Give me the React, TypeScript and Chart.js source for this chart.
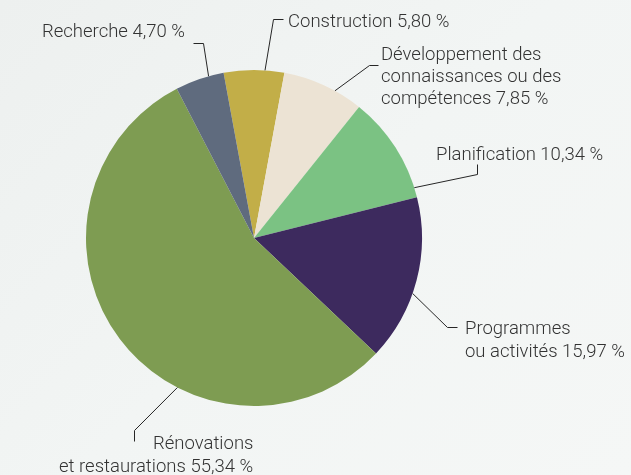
import React, { useEffect, useRef } from "react";
import { Chart, registerables } from "chart.js";

Chart.register(...registerables);

const categories = [
  "Construction",
  "Développement des connaissances ou des compétences",
  "Planification",
  "Programmes ou activités",
  "Rénovations et restaurations",
  "Recherche",
];
const values = [5.8, 7.85, 10.34, 15.97, 55.34, 4.7];
const colors = ["#c2ae48", "#ece3d4", "#7bc283", "#3d2a5e", "#7e9c52", "#5f6b7e"];
const labelLines = [
  ["Construction 5,80 %"],
  ["Développement des", "connaissances ou des", "compétences 7,85 %"],
  ["Planification 10,34 %"],
  ["Programmes", "ou activités 15,97 %"],
  ["Rénovations", "et restaurations 55,34 %"],
  ["Recherche 4,70 %"],
];

// label layout (pixels): text positions, leader-line anchor fraction along arc, elbow path
const labelLayout = [
  { t: 0.68, path: [[273, 19], [283, 19]], text: [[288, 27]] },
  { t: 0.65, path: [[369, 65], [378, 65]], text: [[381, 60], [381, 82], [381, 104]] },
  { t: 0.91, path: [[477, 174], [477, 164]], text: [[436, 160]] },
  { t: 0.58, path: [[447, 327], [457, 327]], text: [[465, 334], [465, 357]] },
  { t: 0.37, path: [[134, 430], [134, 441]], text: [[153, 449], [59, 472]] },
  { t: 0.69, path: [[203, 43], [193, 43]], text: [[42, 37]] },
];

const labelPlugin = {
  id: "leaderLabels",
  afterDatasetsDraw(chart: any) {
    const ctx = chart.ctx;
    const meta = chart.getDatasetMeta(0);
    ctx.save();
    ctx.strokeStyle = "#262626";
    ctx.lineWidth = 1;
    ctx.fillStyle = "#333333";
    ctx.font = "300 18.5px Roboto, 'Noto Sans', sans-serif";
    ctx.textBaseline = "alphabetic";
    ctx.textAlign = "left";
    meta.data.forEach((arc: any, i: number) => {
      const p = arc.getProps(["x", "y", "startAngle", "endAngle", "outerRadius"], true);
      const lay = labelLayout[i];
      const a = p.startAngle + lay.t * (p.endAngle - p.startAngle);
      const ax = p.x + Math.cos(a) * p.outerRadius;
      const ay = p.y + Math.sin(a) * p.outerRadius;
      ctx.beginPath();
      ctx.moveTo(ax, ay);
      lay.path.forEach((pt) => ctx.lineTo(pt[0] + 0.5, pt[1] + 0.5));
      ctx.stroke();
      labelLines[i].forEach((line, j) => {
        const pos = lay.text[j];
        ctx.fillText(line, pos[0], pos[1]);
      });
    });
    ctx.restore();
  },
};

export default function App() {
  const ref = useRef<HTMLCanvasElement>(null);
  useEffect(() => {
    if (!ref.current) return;
    const chart = new Chart(ref.current, {
      type: "pie",
      data: {
        labels: categories,
        datasets: [
          {
            data: values,
            backgroundColor: colors,
            borderWidth: 0,
          },
        ],
      },
      options: {
        responsive: false,
        animation: false,
        rotation: -(values[0] / 100) * 180,
        layout: { padding: { left: 86, right: 209, top: 70, bottom: 69 } },
        plugins: {
          legend: { display: false },
          tooltip: { enabled: false },
        },
      },
      plugins: [labelPlugin],
    });
    return () => chart.destroy();
  }, []);
  return (
    <div
      style={{
        position: "fixed",
        left: 0,
        top: 0,
        width: 631,
        height: 475,
        background: "linear-gradient(135deg, #edf0ef 0%, #f2f5f4 50%, #f5f7f6 100%)",
      }}
    >
      <canvas ref={ref} width={631} height={475} style={{ display: "block" }} />
    </div>
  );
}
